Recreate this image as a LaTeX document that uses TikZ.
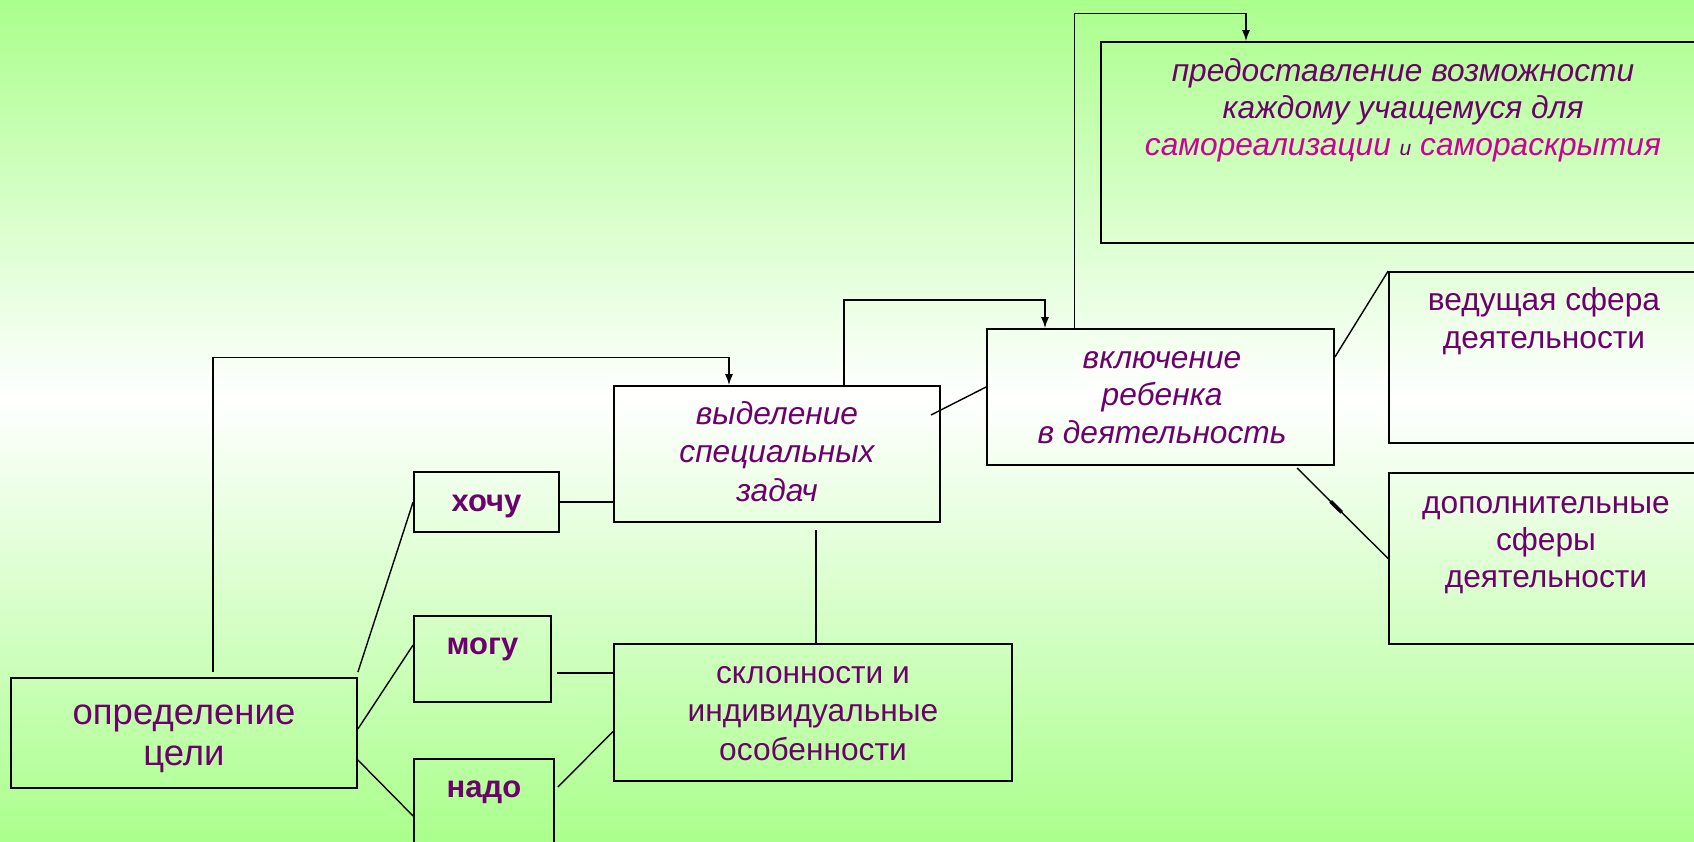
\documentclass[tikz,border=0pt]{standalone}
\usepackage{fontspec}
\setmainfont{Liberation Sans}
\usetikzlibrary{arrows.meta,calc}
\definecolor{tpurple}{RGB}{110,0,110}
\definecolor{tpink}{RGB}{204,0,150}
\definecolor{bggreen}{RGB}{170,255,140}
\newcommand{\ml}[1]{\begin{tabular}[t]{@{}c@{}}#1\end{tabular}}
\tikzset{
  box/.style={draw=black, line width=1.8pt, rectangle, inner sep=0pt},
  conn/.style={draw=black, line width=1.4pt},
  arr/.style={conn, -{Latex[length=11pt,width=8pt]}},
  txt/.style={inner sep=0pt, anchor=base, text=tpurple},
  fsmain/.style={font=\fontsize{31.7}{37}\selectfont},
}
\begin{document}
\begin{tikzpicture}[x=1pt,y=-1pt]
\useasboundingbox (0,0) rectangle (1694,842);
\clip (0,0) rectangle (1694,842);
% background
\shade[top color=bggreen, bottom color=white] (-1,-1) rectangle (1695,398);
\shade[top color=white, bottom color=bggreen] (-1,397) rectangle (1695,843);

% boxes
\node[box, minimum width=346pt, minimum height=110pt] (opr) at (184,733) {};
\node[box, minimum width=145pt, minimum height=60pt] (khochu) at (486.5,502) {};
\node[box, minimum width=137pt, minimum height=86pt] (mogu) at (482.5,659) {};
\node[box, minimum width=140pt, minimum height=101pt] (nado) at (484,809.5) {};
\node[box, minimum width=326pt, minimum height=136pt] (vyd) at (777,454) {};
\node[box, minimum width=398pt, minimum height=137pt] (skl) at (813,712.5) {};
\node[box, minimum width=347pt, minimum height=136pt] (vkl) at (1160.5,397) {};
\node[box, minimum width=609pt, minimum height=201pt] (top) at (1405.5,142.5) {};
\node[box, minimum width=321pt, minimum height=171pt] (ved) at (1549.5,357.5) {};
\node[box, minimum width=321pt, minimum height=171pt] (dop) at (1549.5,558.5) {};

% texts
\node[txt, font=\fontsize{36.5}{41}\selectfont] (t-opr) at (184,724) {\ml{определение\\цели}};
\node[txt, font=\bfseries\fontsize{31}{37}\selectfont] (t-kh) at (486.5,511) {хочу};
\node[txt, font=\bfseries\fontsize{31}{37}\selectfont] (t-mo) at (482.5,654) {могу};
\node[txt, font=\bfseries\fontsize{31}{37}\selectfont] (t-na) at (484,797) {надо};
\node[txt, font=\itshape\fontsize{31.7}{38.5}\selectfont] (t-vyd) at (777,424) {\ml{выделение\\специальных\\задач}};
\node[txt, font=\fontsize{31.7}{38.5}\selectfont] (t-skl) at (813,683) {\ml{склонности и\\индивидуальные\\особенности}};
\node[txt, font=\itshape\fontsize{31.7}{37.5}\selectfont] (t-vkl) at (1162,368) {\ml{включение\\ребенка\\в деятельность}};
\node[txt, font=\itshape\fontsize{31.7}{37}\selectfont] (t-top) at (1403,82) {\ml{предоставление возможности\\каждому учащемуся для\\{\color{tpink}самореализации} {\fontsize{21}{37}\selectfont и} {\color{tpink}самораскрытия}}};
\node[txt, font=\fontsize{31.7}{38}\selectfont] (t-ved) at (1544,310) {\ml{ведущая сфера\\деятельности}};
\node[txt, font=\fontsize{31.7}{37}\selectfont] (t-dop) at (1546,513) {\ml{дополнительные\\сферы\\деятельности}};

% bend points
\coordinate (k1) at (213,357.5);
\coordinate (k2) at (729,357.5);
\coordinate (k3) at (844,300);
\coordinate (k4) at (1045,300);
\coordinate (k5) at (1074.5,13.5);
\coordinate (k6) at (1246,13.5);
\coordinate (m1) at (557,673);
\coordinate (v1) at (816,530);
\coordinate (v2) at (931,415);
\coordinate (d1) at (1297,468);

% arrows
\draw[arr] (opr.north -| k1) ++(0,-5) -- (k1) -- (k2) -- (vyd.north -| k2);
\draw[arr] (vyd.north -| k3) -- (k3) -- (k4) -- (vkl.north -| k4);
\draw[arr] (vkl.north -| k5) -- (k5) -- (k6) -- (top.north -| k6);

% plain connectors
\draw[conn] ([yshift=5pt]opr.north east) -- (khochu.west);
\draw[conn] ([yshift=4pt]opr.east) -- ([yshift=14pt]mogu.west);
\draw[conn] ([yshift=-27pt]opr.east) -- ([yshift=-6.5pt]nado.west);
\draw[conn] (khochu.east) -- (khochu.east -| vyd.west);
\draw[conn] (m1) -- (skl.west |- m1);
\draw[conn] ([xshift=3pt,yshift=22.5pt]nado.east) -- ([yshift=-19pt]skl.west);
\draw[conn] (v1) -- (skl.north -| v1);
\draw[conn] (v2) -- ([yshift=10pt]vkl.west);
\draw[conn] ([yshift=40pt]vkl.east) -- (ved.north west);
\draw[conn] (d1) -- (dop.west);
\draw[black, line width=3.6pt] ($(d1)!0.37!(dop.west)$) -- ($(d1)!0.49!(dop.west)$);
\end{tikzpicture}
\end{document}
